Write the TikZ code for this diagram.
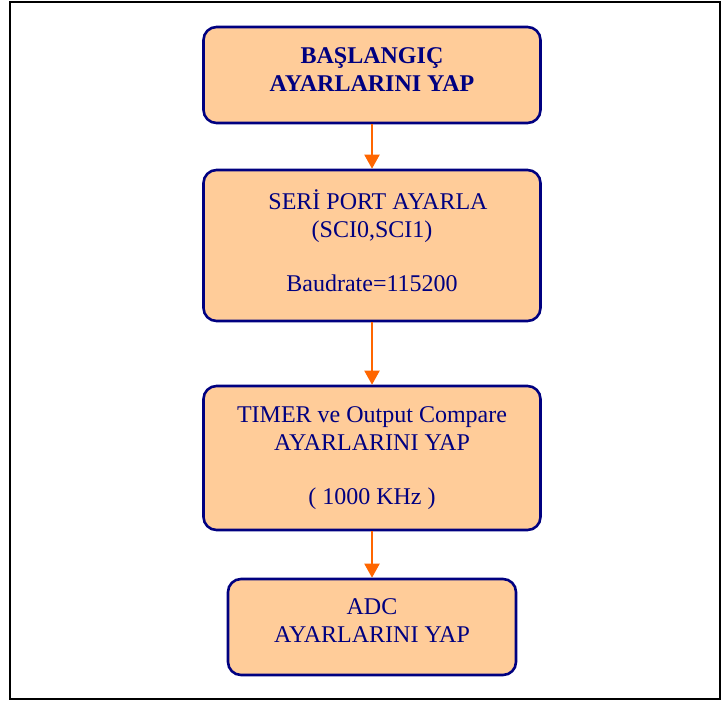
\documentclass[tikz,border=0pt]{standalone}
\usepackage{fontspec}
\setmainfont{Liberation Serif}
\usetikzlibrary{arrows.meta}

\definecolor{lacivert}{HTML}{000080}
\definecolor{seftali}{HTML}{FFCC99}
\definecolor{turuncu}{HTML}{FF6600}

\tikzset{
kutu/.style={draw=lacivert, fill=seftali, line width=1.3pt, rounded corners=6.5pt,
  text=lacivert, align=center, font=\fontsize{12}{14}\selectfont, inner sep=0pt},
ok/.style={draw=turuncu, line width=1pt, -{Triangle[length=7pt,width=7.5pt]}, color=turuncu}
}

\begin{document}
\begin{tikzpicture}[x=0.5pt,y=-0.5pt]
\useasboundingbox (0,0) rectangle (722,702);
\draw[line width=1pt] (10,2) rectangle (720,699);

\node[kutu, minimum width=168.5pt, minimum height=48pt] (basla) at (372,75)
  {\bfseries BAŞLANGIÇ\\ \bfseries AYARLARINI YAP\\[-9pt]};
\node[kutu, minimum width=168.5pt, minimum height=75.5pt] (seri) at (372,245.5)
  {\ \ SERİ PORT AYARLA\\ (SCI0,SCI1)\\[13pt] Baudrate=115200\\[-9pt]};
\node[kutu, minimum width=168.5pt, minimum height=72pt] (timer) at (372,458)
  {TIMER ve Output Compare\\ AYARLARINI YAP\\[13pt] ( 1000 KHz )};
\node[kutu, minimum width=144pt, minimum height=48pt] (adc) at (372,627)
  {ADC\\ AYARLARINI YAP\\[-8pt]};

\draw[ok] (basla) -- (seri);
\draw[ok] (seri) -- (timer);
\draw[ok] (timer) -- (adc);
\end{tikzpicture}
\end{document}
